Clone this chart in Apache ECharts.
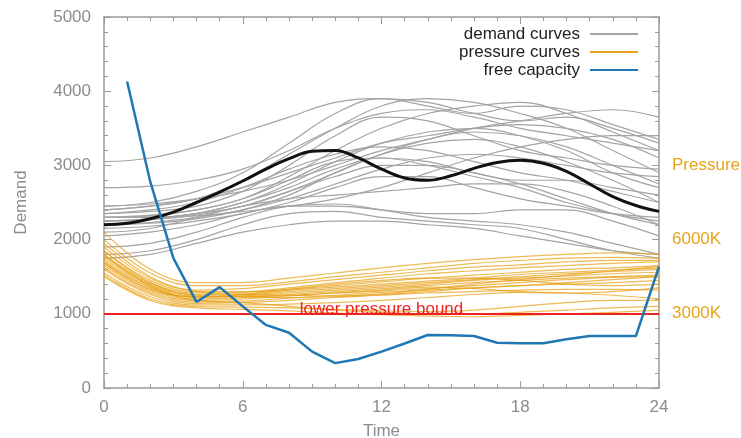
<!DOCTYPE html>
<html><head><meta charset="utf-8">
<script src="https://cdn.jsdelivr.net/npm/echarts@6/dist/echarts.min.js"></script>
<style>html,body{margin:0;padding:0;background:#fff;overflow:hidden}#c{position:absolute;left:0;top:0;width:741px;height:438px}</style>
</head><body><div id="c"></div>
<script>
// hours for sampled curves (every 2 hours)
const curveHours = [0,2,4,6,8,10,12,14,16,18,20,22,24];
const demandCurves = [
  [3050,3100,3250,3450,3650,3850,3900,3800,3700,3800,3750,3550,3350],
  [2700,2720,2800,2950,3200,3500,3700,3750,3650,3500,3400,3300,3200],
  [2450,2500,2650,2900,3300,3700,3900,3850,3700,3600,3650,3500,3300],
  [2400,2450,2550,2800,3150,3500,3800,3900,3850,3700,3500,3200,2900],
  [2350,2380,2450,2650,3000,3400,3650,3600,3400,3200,3100,3000,2950],
  [2300,2320,2400,2550,2850,3200,3500,3700,3800,3850,3700,3450,3200],
  [2300,2300,2350,2500,2750,3050,3300,3450,3500,3400,3200,2900,2700],
  [2250,2280,2350,2500,2700,2950,3100,3050,2900,2800,2800,2700,2600],
  [2200,2220,2280,2400,2600,2900,3150,3300,3350,3250,3050,2800,2500],
  [2350,2400,2500,2700,2950,3150,3250,3200,3050,2900,2800,2650,2500],
  [2300,2330,2400,2550,2800,3050,3100,3000,2850,2700,2500,2350,2250],
  [2250,2280,2350,2450,2650,2850,3000,3000,2900,2750,2550,2350,2200],
  [2150,2180,2250,2350,2500,2700,2850,2850,2700,2550,2450,2350,2300],
  [2100,2150,2300,2450,2550,2600,2650,2700,2750,2750,2650,2450,2200],
  [2050,2100,2200,2350,2450,2450,2400,2350,2350,2400,2400,2250,2050],
  [1900,1950,2100,2300,2450,2480,2400,2300,2250,2200,2100,1950,1800],
  [1800,1850,2000,2200,2350,2380,2300,2250,2200,2150,2000,1850,1750],
  [1750,1800,1950,2100,2200,2250,2250,2200,2150,2050,1950,1850,1800],
  [2400,2450,2550,2700,2900,3100,3300,3400,3500,3550,3500,3350,3100],
  [2300,2300,2320,2380,2450,2550,2700,2900,3100,3250,3350,3400,3400],
  [2450,2480,2550,2650,2800,3000,3200,3350,3500,3600,3700,3750,3650],
  [2200,2230,2300,2400,2550,2750,2950,3100,3150,3100,3000,2900,2850],
  [2250,2270,2330,2450,2650,2900,3150,3350,3450,3400,3250,3000,2750]
];
const pressureCurves = [
  [2100,1600,1420,1420,1480,1550,1620,1680,1730,1770,1800,1820,1800],
  [2000,1550,1380,1380,1430,1500,1560,1620,1680,1720,1750,1760,1750],
  [1900,1480,1320,1340,1400,1460,1520,1580,1630,1660,1700,1720,1720],
  [1850,1450,1300,1300,1350,1420,1480,1540,1580,1620,1650,1680,1700],
  [1800,1420,1280,1290,1330,1380,1430,1480,1520,1560,1600,1620,1650],
  [1780,1400,1260,1270,1320,1360,1400,1440,1480,1530,1560,1590,1620],
  [1750,1380,1240,1250,1300,1340,1380,1420,1460,1500,1540,1570,1600],
  [1700,1350,1220,1240,1280,1320,1360,1400,1450,1480,1510,1540,1560],
  [1680,1320,1200,1220,1260,1300,1340,1380,1420,1450,1480,1500,1520],
  [1650,1300,1180,1200,1240,1280,1310,1340,1380,1420,1460,1490,1500],
  [1620,1280,1160,1170,1210,1250,1290,1320,1350,1380,1400,1420,1450],
  [1600,1260,1140,1150,1180,1220,1250,1280,1300,1320,1330,1330,1320],
  [1550,1230,1120,1120,1130,1150,1180,1220,1260,1290,1280,1250,1200],
  [1520,1200,1100,1090,1080,1060,1040,1030,1050,1100,1150,1180,1180],
  [1500,1180,1080,1060,1040,1010,990,970,960,980,1000,1020,1050],
  [1800,1380,1180,1150,1100,1050,1020,1000,1000,1020,1050,1080,1100],
  [1950,1500,1300,1260,1250,1240,1260,1300,1350,1380,1420,1460,1500],
  [1720,1360,1230,1230,1250,1280,1320,1360,1340,1300,1280,1300,1350],
  [1850,1420,1250,1230,1220,1230,1270,1330,1400,1460,1520,1580,1640],
  [1680,1330,1230,1260,1330,1400,1450,1480,1480,1450,1400,1380,1400]
];
const meanHours = [0,1,2,3,4,5,6,7,8,9,10,11,12,13,14,15,16,17,18,19,20,21,22,23,24];
const meanDemand = [2200,2220,2280,2370,2500,2640,2790,2950,3090,3190,3200,3100,2950,2830,2800,2860,2960,3040,3070,3030,2920,2750,2580,2460,2380];
const capHours = [1,2,3,4,5,6,7,8,9,10,11,12,13,14,15,16,17,18,19,20,21,22,23,24];
const freeCapacity = [4130,2780,1750,1160,1360,1100,850,745,490,335,390,490,600,714,710,700,610,602,602,656,700,700,700,1635];
const lowerBound = 1000;
const rightLabels = {1000:'3000K', 2000:'6000K', 3000:'Pressure'};

const grey = '#a4a4a4', orange = 'rgba(232,160,20,0.72)', axisCol = '#9a9a9a', txtCol = '#8c8c8c';
const font = 'Liberation Sans';
const fs = 17;
const pair = (xs, ys) => ys.map((v, i) => [xs[i], v]);

const series = [];
demandCurves.forEach(c => series.push({
  name: 'demand curves', type: 'line', smooth: 0.4, symbol: 'none', silent: true,
  data: pair(curveHours, c), lineStyle: {color: grey, width: 1.2}, itemStyle: {color: grey}, z: 2
}));
series.push({
  name: 'mean demand', type: 'line', smooth: 0.4, symbol: 'none',
  data: pair(meanHours, meanDemand), lineStyle: {color: '#111', width: 3}, itemStyle: {color: '#111'}, z: 3
});
pressureCurves.forEach(c => series.push({
  name: 'pressure curves', type: 'line', smooth: 0.4, symbol: 'none',
  data: pair(curveHours, c), lineStyle: {color: orange, width: 1.2}, itemStyle: {color: orange}, z: 4
}));
series.push({
  name: 'lower pressure bound', type: 'line', symbol: 'none', data: [],
  markLine: {
    silent: true, symbol: 'none',
    lineStyle: {color: '#ee2222', width: 2, type: 'solid'},
    label: {show: true, position: 'insideMiddleTop', formatter: 'lower pressure bound',
      color: '#ee2222', fontFamily: font, fontSize: fs, distance: -4},
    data: [{yAxis: lowerBound}]
  }, z: 5
});
series.push({
  name: 'free capacity', type: 'line', symbol: 'none',
  data: pair(capHours, freeCapacity), lineStyle: {color: '#1f77b4', width: 2.5}, itemStyle: {color: '#1f77b4'}, z: 6
});

const tickStyle = {inside: true, length: 7, lineStyle: {color: axisCol}};
const chart = echarts.init(document.getElementById('c'), null, {width: 741, height: 438});
chart.setOption({
  animation: false,
  backgroundColor: '#fff',
  grid: {left: 104, right: 82, top: 17, bottom: 50, containLabel: false, outerBoundsMode: 'none'},
  legend: {
    data: [
      {name: 'demand curves', icon: 'rect', itemStyle: {color: grey}},
      {name: 'pressure curves', icon: 'rect', itemStyle: {color: '#e8a317'}},
      {name: 'free capacity', icon: 'rect', itemStyle: {color: '#1f77b4'}}
    ],
    orient: 'vertical', align: 'right', right: 103, top: 25, padding: 0,
    itemWidth: 48, itemHeight: 2, itemGap: 0,
    textStyle: {color: '#222', fontFamily: font, fontSize: fs, lineHeight: 18, padding: [0, 5, 0, 0]}
  },
  xAxis: [{
    type: 'value', min: 0, max: 24, interval: 6,
    name: 'Time', nameLocation: 'middle', nameGap: 35,
    nameTextStyle: {color: txtCol, fontFamily: font, fontSize: fs},
    axisLine: {onZero: false, lineStyle: {color: axisCol, width: 1.5}},
    axisTick: tickStyle,
    minorTick: {show: true, splitNumber: 6, length: 4, lineStyle: {color: axisCol}},
    axisLabel: {color: txtCol, fontFamily: font, fontSize: fs, margin: 11},
    splitLine: {show: false}
  }, {
    type: 'value', min: 0, max: 24, interval: 6, position: 'top',
    axisLine: {onZero: false, lineStyle: {color: axisCol, width: 1.5}},
    axisTick: tickStyle,
    minorTick: {show: true, splitNumber: 6, length: 4, lineStyle: {color: axisCol}},
    axisLabel: {show: false}, splitLine: {show: false}
  }],
  yAxis: [{
    type: 'value', min: 0, max: 5000, interval: 1000,
    name: 'Demand', nameLocation: 'middle', nameGap: 74, nameRotate: 90,
    nameTextStyle: {color: txtCol, fontFamily: font, fontSize: fs},
    axisLine: {show: true, onZero: false, lineStyle: {color: axisCol, width: 1.5}},
    axisTick: Object.assign({show: true}, tickStyle),
    minorTick: {show: true, splitNumber: 5, length: 4, lineStyle: {color: axisCol}},
    axisLabel: {color: txtCol, fontFamily: font, fontSize: fs, margin: 13, formatter: v => String(v)},
    splitLine: {show: false}
  }, {
    type: 'value', min: 0, max: 5000, interval: 1000, position: 'right',
    axisLine: {show: true, onZero: false, lineStyle: {color: axisCol, width: 1.5}},
    axisTick: Object.assign({show: true}, tickStyle),
    minorTick: {show: true, splitNumber: 5, length: 4, lineStyle: {color: axisCol}},
    axisLabel: {color: '#e8a317', fontFamily: font, fontSize: fs, margin: 13,
      formatter: v => rightLabels[v] || ''},
    splitLine: {show: false}
  }],
  series: series
});
</script></body></html>
